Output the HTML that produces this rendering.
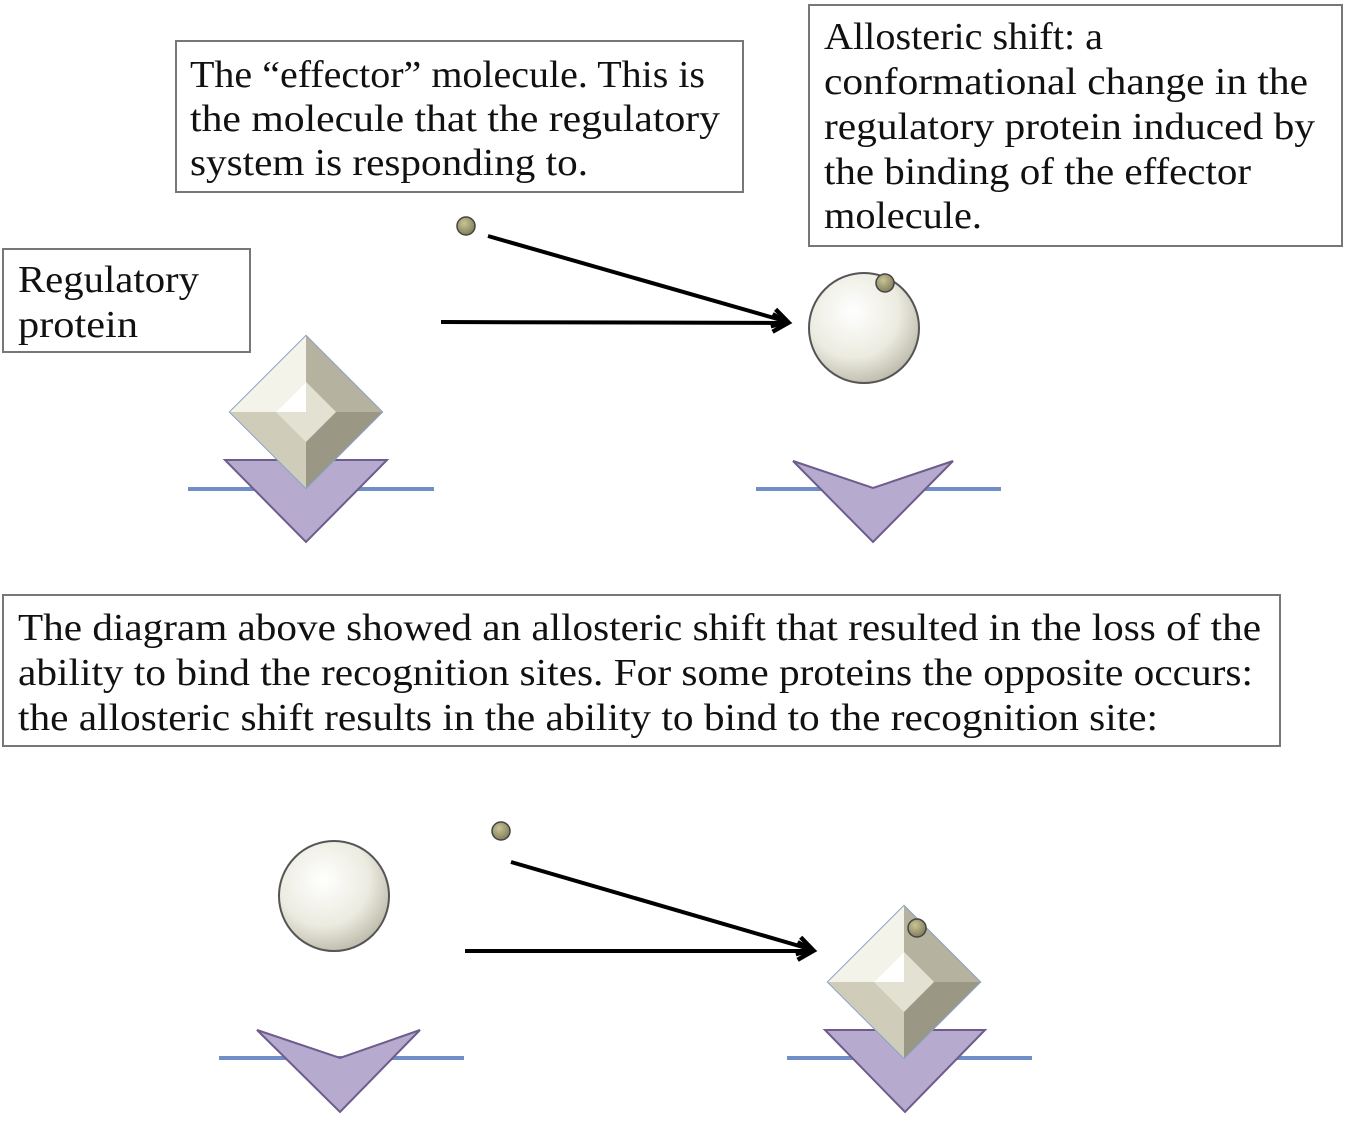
<!DOCTYPE html>
<html><head><style>body{margin:0;background:#fff}svg{display:block}text{font-family:"Liberation Serif",serif;font-size:38px;fill:#111}</style></head><body>
<svg width="1346" height="1128" viewBox="0 0 1346 1128" xmlns="http://www.w3.org/2000/svg">
<defs>
<radialGradient id="sph" cx="0.4" cy="0.35" r="0.7"><stop offset="0" stop-color="#fff"/><stop offset="0.6" stop-color="#ecebe0"/><stop offset="1" stop-color="#b9b7a6"/></radialGradient>
<radialGradient id="ball" cx="0.4" cy="0.35" r="0.7"><stop offset="0" stop-color="#c9c497"/><stop offset="1" stop-color="#7e7a55"/></radialGradient>
<marker id="a" viewBox="0 0 20 20" markerWidth="22" markerHeight="22" refX="16" refY="10" orient="auto" markerUnits="userSpaceOnUse"><path d="M2,2 L16,10 L2,18" fill="none" stroke="#000" stroke-width="4"/></marker>
<g id="diam"><polygon points="0,-76 76,0 0,76 -76,0" fill="#d9d7c7" stroke="#8aa0c0" stroke-width="2"/><polygon points="0,-76 -76,0 -30,0 0,-30" fill="#f4f3ea"/><polygon points="-76,0 -30,0 0,30 0,76" fill="#cfcdb9"/><polygon points="0,-76 0,-30 30,0 76,0" fill="#b5b3a0"/><polygon points="0,-30 30,0 0,30 -30,0" fill="#e3e1d2"/><polygon points="76,0 30,0 0,30 0,76" fill="#9a9884"/><polygon points="0,-30 0,0 -30,0" fill="#fff"/></g>
</defs>
<g fill="#fff" stroke="#777" stroke-width="2">
<rect x="176" y="41" width="567" height="151"/>
<rect x="809" y="5" width="533" height="241"/>
<rect x="3" y="249" width="247" height="103"/>
<rect x="3" y="595" width="1277" height="151"/>
</g>
<g lengthAdjust="spacingAndGlyphs">
<text x="190" y="87" textLength="515" lengthAdjust="spacingAndGlyphs">The “effector” molecule. This is</text>
<text x="190" y="131" textLength="530" lengthAdjust="spacingAndGlyphs">the molecule that the regulatory</text>
<text x="190" y="175" textLength="398" lengthAdjust="spacingAndGlyphs">system is responding to.</text>
<text x="824" y="49" textLength="279" lengthAdjust="spacingAndGlyphs">Allosteric shift: a</text>
<text x="824" y="94" textLength="484" lengthAdjust="spacingAndGlyphs">conformational change in the</text>
<text x="824" y="139" textLength="491" lengthAdjust="spacingAndGlyphs">regulatory protein induced by</text>
<text x="824" y="184" textLength="427" lengthAdjust="spacingAndGlyphs">the binding of the effector</text>
<text x="824" y="228" textLength="158" lengthAdjust="spacingAndGlyphs">molecule.</text>
<text x="18" y="292" textLength="181" lengthAdjust="spacingAndGlyphs">Regulatory</text>
<text x="18" y="337" textLength="120" lengthAdjust="spacingAndGlyphs">protein</text>
<text x="18" y="640" textLength="1243" lengthAdjust="spacingAndGlyphs">The diagram above showed an allosteric shift that resulted in the loss of the</text>
<text x="18" y="685" textLength="1235" lengthAdjust="spacingAndGlyphs">ability to bind the recognition sites. For some proteins the opposite occurs:</text>
<text x="18" y="730" textLength="1140" lengthAdjust="spacingAndGlyphs">the allosteric shift results in the ability to bind to the recognition site:</text>
</g>
<g stroke="#6f8fc6" stroke-width="4">
<line x1="188" y1="489" x2="434" y2="489"/><line x1="756" y1="489" x2="1001" y2="489"/>
<line x1="219" y1="1058" x2="464" y2="1058"/><line x1="787" y1="1058" x2="1032" y2="1058"/>
</g>
<g fill="#b7aacf" stroke="#6e5c8c" stroke-width="2">
<polygon points="225,460 387,460 306,542"/>
<polygon points="793,461 873,488 953,461 873,542"/>
<polygon points="257,1030 340,1058 420,1030 340,1112"/>
<polygon points="825,1030 985,1030 905,1112"/>
</g>
<use href="#diam" x="306" y="412"/>
<use href="#diam" x="904" y="982"/>
<circle cx="864" cy="328" r="55" fill="url(#sph)" stroke="#555" stroke-width="2"/>
<circle cx="334" cy="896" r="55" fill="url(#sph)" stroke="#555" stroke-width="2"/>
<g fill="url(#ball)" stroke="#444" stroke-width="1.5">
<circle cx="885" cy="283" r="9"/><circle cx="466" cy="226" r="9"/><circle cx="501" cy="831" r="9"/><circle cx="917" cy="928" r="9"/>
</g>
<g stroke="#000" stroke-width="4" fill="none">
<line x1="488" y1="236" x2="788" y2="322" marker-end="url(#a)"/>
<line x1="441" y1="322" x2="788" y2="323" marker-end="url(#a)"/>
<line x1="511" y1="862" x2="813" y2="950" marker-end="url(#a)"/>
<line x1="465" y1="951" x2="813" y2="951" marker-end="url(#a)"/>
</g>
</svg>
</body></html>
